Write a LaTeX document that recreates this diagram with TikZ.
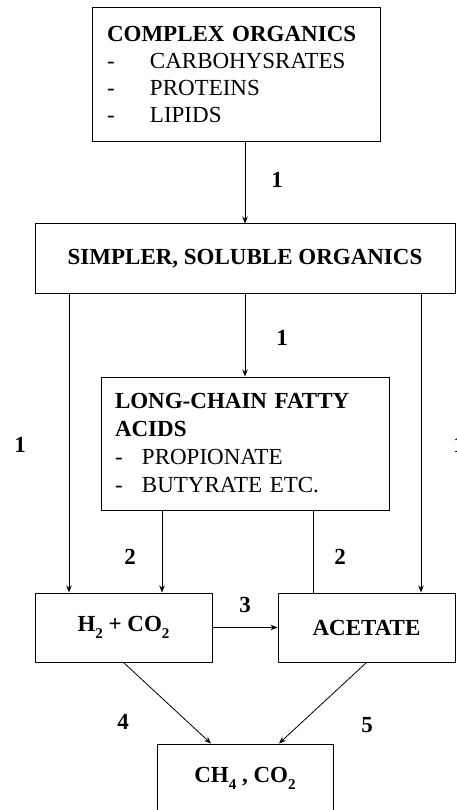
\documentclass[tikz,border=0pt]{standalone}
\usepackage{fontspec}
\setmainfont{Liberation Serif}
\usetikzlibrary{arrows.meta,calc}
% lowered, smaller digit for chemical formulas
\newcommand{\chemsub}[1]{\raisebox{-0.28em}{\fontsize{15}{15}\selectfont #1}}
\begin{document}
\begin{tikzpicture}[x=1pt,y=-1pt,
  box/.style={draw, line width=1pt, inner sep=0pt, font=\fontsize{23}{27}\selectfont},
  arr/.style={line width=0.8pt, -{Stealth[length=7pt,width=5.5pt]}},
  link/.style={line width=0.8pt},
  num/.style={font=\fontsize{23}{23}\selectfont\bfseries, inner sep=0pt}]
\useasboundingbox (0,0) rectangle (456,810);
\clip (0,0) rectangle (456,810);

% boxes
\node[box, minimum width=288pt, minimum height=134pt, text width=258pt,
      inner xsep=15pt, align=left] (b1) at (236,75)
  {\textbf{COMPLEX ORGANICS}\\
   \makebox[43pt][l]{-}CARBOHYSRATES\\
   \makebox[43pt][l]{-}PROTEINS\\
   \makebox[43pt][l]{-}LIPIDS};

\node[box, minimum width=420pt, minimum height=69pt] (b2) at (245,258.5)
  {\textbf{SIMPLER, SOLUBLE ORGANICS}};

\node[box, minimum width=288pt, minimum height=133pt, text width=260pt,
      inner xsep=14pt, align=left, font=\fontsize{23}{28}\selectfont] (b3) at (245,443.5)
  {\textbf{LONG-CHAIN FATTY}\\
   \textbf{ACIDS}\\
   \makebox[27pt][l]{-}PROPIONATE\\
   \makebox[27pt][l]{-}BUTYRATE ETC.};

\node[box, minimum width=177pt, minimum height=69pt] (h2) at (123.5,627.5)
  {\textbf{H\chemsub{2} + CO\chemsub{2}}};
\node[box, minimum width=177pt, minimum height=69pt] (ac) at (366.5,627.5)
  {\textbf{ACETATE}};
\node[box, minimum width=176pt, minimum height=69pt] (fin) at (245,778.5)
  {\textbf{CH\chemsub{4} , CO\chemsub{2}}};

% vertical line columns
\coordinate (xL) at (69,0);
\coordinate (xM1) at (162,0);
\coordinate (xM2) at (313,0);
\coordinate (xR) at (421,0);
\coordinate (finL) at ($(fin.north)+(-34,0)$);
\coordinate (finR) at ($(fin.north)+(34,0)$);

% connectors
\draw[arr] (b1.south -| b2.north) -- (b2.north);
\draw[arr] (b2.south) -- (b3.north);
\draw[arr] (b2.south -| xL) -- (h2.north -| xL);
\draw[arr] (b2.south -| xR) -- (ac.north -| xR);
\draw[arr] (b3.south -| xM1) -- (h2.north -| xM1);
\draw[link] (b3.south -| xM2) -- (ac.north -| xM2);
\draw[arr] (h2.east) -- (ac.west);
\draw[arr] (h2.south) -- (finL);
\draw[arr] (ac.south) -- (finR);

% step numbers
\node[num] (n1a) at (277,180) {1};
\node[num] (n1b) at (282,338) {1};
\node[num] (n1c) at (20,445) {1};
\node[num] (n1d) at (459,445) {1};
\node[num] (n2a) at (130,557) {2};
\node[num] (n2b) at (340,557) {2};
\node[num] (n3) at (245,605) {3};
\node[num] (n4) at (123,722) {4};
\node[num] (n5) at (367,725) {5};
\end{tikzpicture}
\end{document}
